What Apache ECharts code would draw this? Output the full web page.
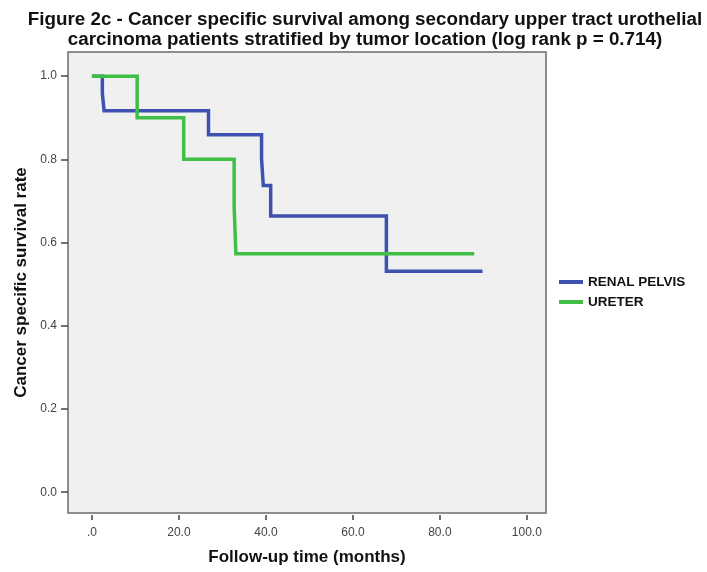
<!DOCTYPE html>
<html>
<head>
<meta charset="utf-8">
<script src="https://cdn.jsdelivr.net/npm/echarts@6/dist/echarts.min.js"></script>
<style>
html, body { margin: 0; padding: 0; background: #fff; }
#Result { width: 707px; height: 572px; }
</style>
</head>
<body>
<div id="Result"></div>
<script>
// Kaplan-Meier steps (time in months, survival rate)
var renalTime = [0, 2.4, 2.8, 26.8, 39.0, 39.4, 41.1, 67.7, 89.8];
var renalSurv = [1.0, 0.958, 0.917, 0.859, 0.801, 0.737, 0.664, 0.531, 0.531];
var ureterTime = [0, 10.4, 21.1, 32.7, 33.1, 87.9];
var ureterSurv = [1.0, 0.9, 0.8, 0.686, 0.573, 0.573];
var xTicks = [0, 20, 40, 60, 80, 100];
var yTicks = [0, 0.2, 0.4, 0.6, 0.8, 1.0];
var seriesNames = ['RENAL PELVIS', 'URETER'];

function pairs(t, s) {
    var out = [];
    for (var i = 0; i < t.length; i++) out.push([t[i], s[i]]);
    return out;
}

var dom = document.getElementById("Result");
var myChart = echarts.init(dom, null, {renderer: 'canvas'});
var font = 'Liberation Sans, Arial, sans-serif';

var option = {
    backgroundColor: '#ffffff',
    animation: false,
    title: {
        text: 'Figure 2c - Cancer specific survival among secondary upper tract urothelial\ncarcinoma patients stratified by tumor location (log rank p = 0.714)',
        left: 360,
        top: 5,
        textAlign: 'center',
        textStyle: {
            fontFamily: font,
            fontWeight: 'bold',
            fontSize: 18.8,
            lineHeight: 20,
            color: '#111'
        }
    },
    legend: {
        orient: 'vertical',
        left: 554,
        top: 270,
        itemGap: 6,
        itemWidth: 24,
        itemHeight: 4,
        icon: 'rect',
        data: seriesNames,
        textStyle: {fontFamily: font, fontWeight: 'bold', fontSize: 13.5, color: '#111'}
    },
    grid: {
        left: 68,
        top: 52,
        width: 478,
        height: 461,
        outerBoundsMode: 'none',
        containLabel: false,
        show: true,
        backgroundColor: '#f0f0f0',
        borderColor: '#6b6b6b',
        borderWidth: 1.5
    },
    xAxis: {
        type: 'value',
        min: -5.5,
        max: 104.4,
        name: 'Follow-up time (months)',
        nameLocation: 'middle',
        nameGap: 34,
        nameTextStyle: {fontFamily: font, fontWeight: 'bold', fontSize: 17, color: '#111'},
        offset: 2,
        axisLine: {show: false, onZero: false},
        splitLine: {show: false},
        axisTick: {show: true, customValues: xTicks, length: 5, lineStyle: {color: '#444', width: 1.5}},
        axisLabel: {
            customValues: xTicks,
            fontFamily: font, fontSize: 12, color: '#444', margin: 12,
            formatter: function (v) { return v === 0 ? '.0' : v.toFixed(1); }
        }
    },
    yAxis: {
        type: 'value',
        min: -0.05,
        max: 1.058,
        name: 'Cancer specific survival rate',
        nameLocation: 'middle',
        nameGap: 38,
        nameTextStyle: {fontFamily: font, fontWeight: 'bold', fontSize: 17, color: '#111'},
        axisLine: {show: false, onZero: false},
        splitLine: {show: false},
        axisTick: {show: true, customValues: yTicks, length: 7, lineStyle: {color: '#444', width: 1.5}},
        axisLabel: {
            customValues: yTicks,
            fontFamily: font, fontSize: 12, color: '#444', margin: 11,
            formatter: function (v) { return v.toFixed(1); }
        }
    },
    series: [
        {
            name: seriesNames[0],
            type: 'line',
            step: 'end',
            showSymbol: false,
            symbol: 'none',
            color: '#3d52b0',
            lineStyle: {width: 3.5, color: '#3d52b0', join: 'miter'},
            data: pairs(renalTime, renalSurv)
        },
        {
            name: seriesNames[1],
            type: 'line',
            step: 'end',
            showSymbol: false,
            symbol: 'none',
            color: '#3fbf44',
            lineStyle: {width: 3.5, color: '#3fbf44', join: 'miter'},
            data: pairs(ureterTime, ureterSurv)
        }
    ]
};

if (option && typeof option === "object") {
    myChart.setOption(option, true);
}
</script>
</body>
</html>
